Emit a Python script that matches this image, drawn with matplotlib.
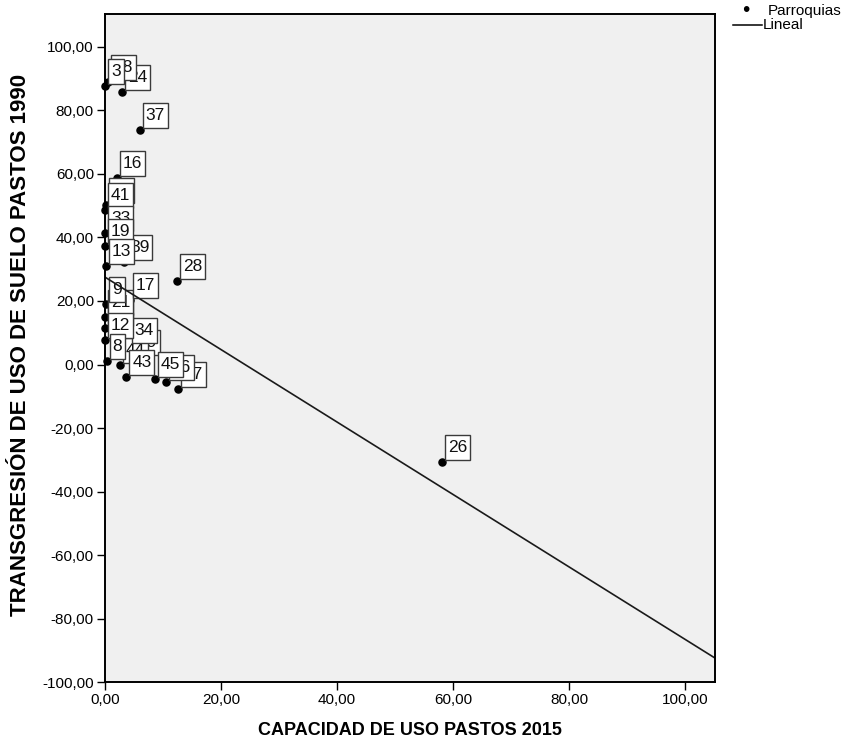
import numpy as np
import matplotlib
matplotlib.use("Agg")
import matplotlib.pyplot as plt
from matplotlib.patches import Rectangle
from matplotlib.transforms import IdentityTransform, ScaledTranslation

plt.rcParams['font.family'] = ['Liberation Sans', 'DejaVu Sans']

# Parroquias: case label, capacidad de uso pastos 2015, transgresión 1990
labels = ["3", "18", "24", "37", "16", "42", "41", "33", "19", "13", "39",
          "28", "9", "17", "21", "25", "12", "34", "49", "8", "44", "43",
          "45", "46", "47", "26"]
capacidad = [0.0, 0.5, 2.9, 6.0, 2.0, 0.2, 0.0, 0.0, 0.0, 0.2, 3.3,
             12.4, 0.2, 4.3, 0.0, 0.0, 0.0, 4.1, 4.6, 0.3, 2.6, 3.7,
             8.6, 10.5, 12.5, 58.05]
transgresion = [87.5, 89.0, 85.6, 73.7, 58.6, 50.1, 48.5, 41.3, 37.2, 30.9, 32.3,
                26.2, 19.0, 20.3, 15.0, 11.5, 7.6, 6.1, 2.5, 1.1, -0.2, -3.9,
                -4.6, -5.5, -7.6, -30.6]

# Ajuste lineal
fit_intercept = 27.5
fit_slope = -1.14

x_ticks = [0, 20, 40, 60, 80, 100]
y_ticks = [-100, -80, -60, -40, -20, 0, 20, 40, 60, 80, 100]


def coma(v):
    return f"{v:.2f}".replace(".", ",")


fig = plt.figure(figsize=(8.46, 7.48), dpi=100)
ax = fig.add_axes([105 / 846, 1 - 682.3 / 748, (715.3 - 105) / 846, (682.3 - 14) / 748])
ax.set_facecolor("#f0f0f0")
ax.set_xlim(0, 105.2)
ax.set_ylim(-100, 110.3)

ax.scatter(capacidad, transgresion, s=26, color="black", zorder=50, clip_on=False)

# Etiquetas de caso en recuadro, ancladas arriba a la derecha del punto;
# las de número menor quedan encima.
for lab, x, y in zip(labels, capacidad, transgresion):
    trans = IdentityTransform() + ScaledTranslation(x, y, ax.transData)
    n = int(lab)
    w = 6 + 9.5 * len(lab)
    h = 25
    ax.add_patch(Rectangle((3, 2), w, h, transform=trans, facecolor="white",
                           edgecolor="#3a3a3a", lw=1.0, zorder=200 - 2 * n,
                           clip_on=False))
    ax.text(3 + w / 2, 2 + h / 2, lab, transform=trans, ha="center",
            va="center", fontsize=12.5, color="#111111",
            zorder=200 - 2 * n + 0.5, clip_on=False)

xl = np.array(ax.get_xlim())
ax.plot(xl, fit_intercept + fit_slope * xl, color="#1a1a1a", lw=1.2, zorder=300)

ax.set_xticks(x_ticks)
ax.set_xticklabels([coma(v) for v in x_ticks])
ax.set_yticks(y_ticks)
ax.set_yticklabels([coma(v) for v in y_ticks])
ax.tick_params(direction="out", length=6, width=1.0, labelsize=11,
               colors="black", pad=2)
for s in ax.spines.values():
    s.set_linewidth(1.4)
    s.set_color("black")
    s.set_zorder(400)

ax.set_xlabel("CAPACIDAD DE USO PASTOS 2015", fontsize=13, fontweight="bold")
ax.xaxis.set_label_coords(0.5, -0.0594)
ax.set_ylabel("TRANSGRESIÓN DE USO DE SUELO PASTOS 1990", fontsize=16,
              fontweight="bold")
ax.yaxis.set_label_coords(-0.121, 0.505)

# Leyenda fuera del área de trazado
fig.text(746 / 846, 1 - 11 / 748, "\u2022", fontsize=15, ha="center", va="center")
fig.text(768 / 846, 1 - 11 / 748, "Parroquias", fontsize=11, ha="left", va="center")
fig.add_artist(plt.Line2D([733 / 846, 762 / 846], [1 - 25 / 748, 1 - 25 / 748],
                          color="black", lw=1.1))
fig.text(763 / 846, 1 - 25 / 748, "Lineal", fontsize=11, ha="left", va="center")

fig.savefig("out.png", dpi=100)
